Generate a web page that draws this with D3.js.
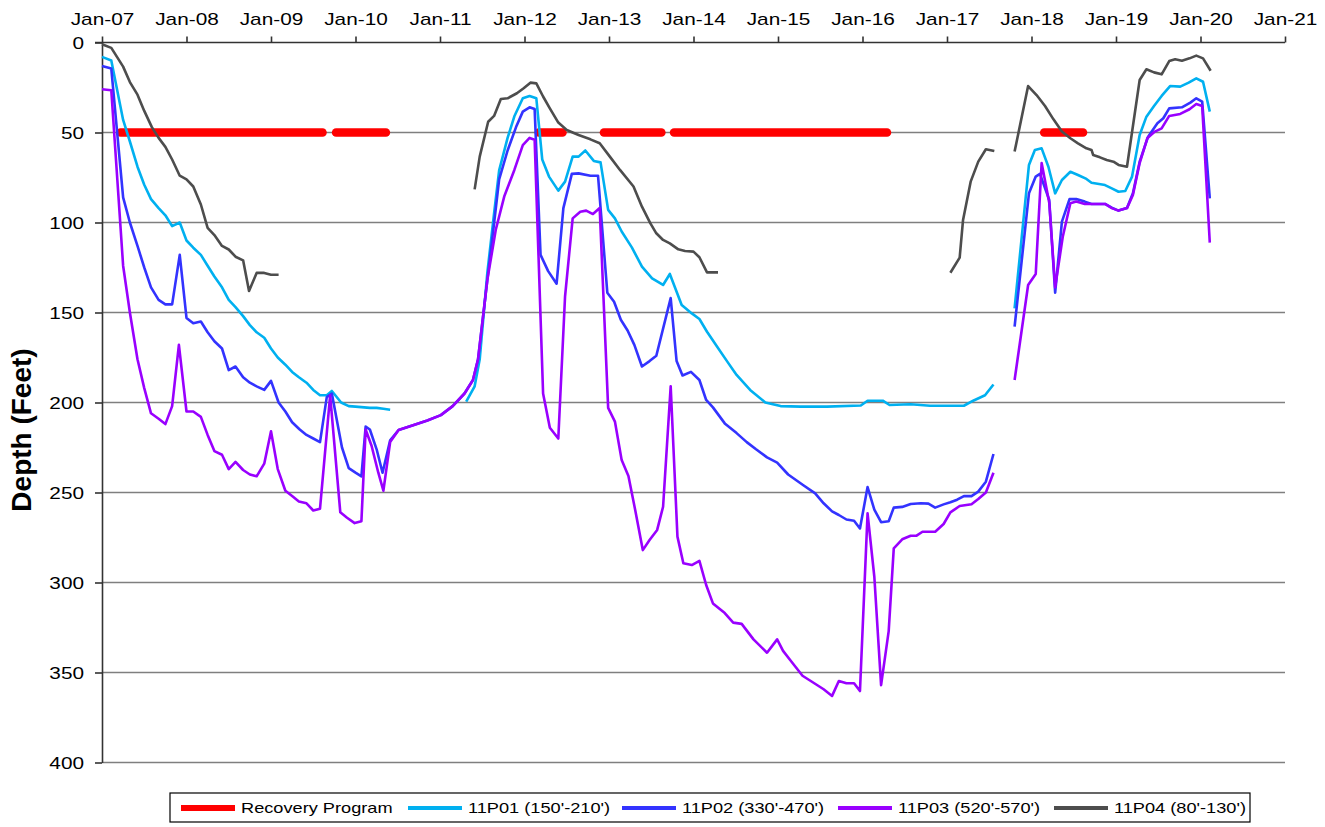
<!DOCTYPE html>
<html><head><meta charset="utf-8">
<script src="https://cdn.jsdelivr.net/npm/d3@7"></script>
<style>body{margin:0;background:#fff} text{font-family:"Liberation Sans",Arial,sans-serif;fill:#000}</style>
</head><body><svg id="c" width="1325" height="827"></svg>
<script>
// ---------- data ----------
const yearTicks = [2007,2008,2009,2010,2011,2012,2013,2014,2015,2016,2017,2018,2019,2020,2021];
const yearTickLabels = ["Jan-07","Jan-08","Jan-09","Jan-10","Jan-11","Jan-12","Jan-13","Jan-14","Jan-15","Jan-16","Jan-17","Jan-18","Jan-19","Jan-20","Jan-21"];
const depthTicks = [0,50,100,150,200,250,300,350,400];
const seriesNames = ["Recovery Program","11P01 (150'-210')","11P02 (330'-470')","11P03 (520'-570')","11P04 (80'-130')"];
const seriesColors = ["#ff0000","#00b0f0","#3333ff","#9900ff","#4d4d4d"];
const recoveryDepth = 50;
const recoveryPeriods = [[2007.22,2009.61],[2009.77,2010.36],[2012.17,2012.45],[2012.94,2013.62],[2013.77,2016.29],[2018.15,2018.61]];

const p01 = [[2007,8],[2007.11,10],[2007.25,43],[2007.33,55],[2007.42,69],[2007.5,79],[2007.58,87],[2007.67,92],[2007.75,96],[2007.83,102],[2007.92,100],[2008,110],[2008.08,114],[2008.17,118],[2008.25,124],[2008.33,130],[2008.42,136],[2008.5,143],[2008.58,147],[2008.67,152],[2008.75,157],[2008.83,161],[2008.92,164],[2009,170],[2009.08,175],[2009.17,179],[2009.25,183],[2009.33,186],[2009.42,189],[2009.5,193],[2009.58,196],[2009.66,196],[2009.72,193.6],[2009.83,200],[2009.92,202],[2010,202.3],[2010.17,203],[2010.25,203],[2010.33,203.5],[2010.41,204],null,
[2011.31,199.5],[2011.41,191],[2011.47,176],[2011.56,128],[2011.64,95],[2011.7,71],[2011.8,53],[2011.88,41],[2011.98,31],[2012.06,29.7],[2012.14,31],[2012.21,65],[2012.29,74.5],[2012.4,82.3],[2012.48,77.3],[2012.57,63.4],[2012.64,63.4],[2012.72,60],[2012.82,65.8],[2012.9,66.6],[2012.99,93],[2013.07,97.7],[2013.15,105],[2013.27,113.8],[2013.39,124.5],[2013.51,131],[2013.64,134.7],[2013.72,128.6],[2013.86,145.8],[2013.98,150.5],[2014.07,153.6],[2014.16,160.7],[2014.28,169],[2014.4,177.3],[2014.51,184.7],[2014.67,193],[2014.85,200],[2015.03,202],[2015.27,202.3],[2015.58,202.3],[2015.98,201.7],[2016.06,199],[2016.24,199],[2016.32,201.4],[2016.57,201],[2016.8,201.8],[2017.2,201.8],[2017.31,199],[2017.45,196],[2017.55,190],null,
[2017.8,147.7],[2017.97,68],[2018.04,59.7],[2018.12,58.8],[2018.2,69],[2018.28,83.8],[2018.36,76.4],[2018.46,71.8],[2018.55,73.6],[2018.65,75.8],[2018.71,77.9],[2018.87,79.2],[2018.95,81],[2019.03,82.9],[2019.11,82.5],[2019.19,74.5],[2019.28,51.4],[2019.36,41.2],[2019.45,35.3],[2019.54,29.7],[2019.64,24.2],[2019.76,24.5],[2019.86,22.3],[2019.95,19.9],[2020.03,21.8],[2020.11,38.4]];

const p02 = [[2007,13],[2007.11,14.5],[2007.25,86],[2007.33,100],[2007.42,113],[2007.5,125],[2007.58,136],[2007.67,143],[2007.75,145.5],[2007.83,145.5],[2007.92,118],[2008,153],[2008.08,156],[2008.17,155],[2008.25,161],[2008.33,166],[2008.42,170],[2008.5,182],[2008.58,180],[2008.67,186],[2008.75,189],[2008.83,191],[2008.92,193],[2009,188],[2009.09,200],[2009.17,205],[2009.25,211],[2009.34,215],[2009.42,218],[2009.5,220],[2009.58,222],[2009.66,197],[2009.72,195],[2009.84,225],[2009.92,236.5],[2010,239],[2010.07,241],[2010.12,213.4],[2010.17,215],[2010.25,226],[2010.32,239],[2010.41,221],[2010.51,215.3],[2010.69,212.5],[2010.85,210],[2011.01,207],[2011.15,202],[2011.29,195],[2011.39,187.5],[2011.45,176],[2011.5,156],[2011.56,132],[2011.64,100.5],[2011.7,76],[2011.8,60],[2011.9,47],[2011.98,38.4],[2012.06,36],[2012.12,37],[2012.19,118],[2012.28,127],[2012.38,134],[2012.46,92],[2012.56,73],[2012.64,72.7],[2012.78,74],[2012.87,74],[2012.98,139],[2013.06,144],[2013.14,154],[2013.22,160],[2013.3,168],[2013.39,180],[2013.48,177],[2013.56,174],[2013.73,142],[2013.8,177],[2013.87,185],[2013.97,183],[2014.07,187.5],[2014.15,198.6],[2014.23,202.7],[2014.37,211.6],[2014.51,217],[2014.63,222],[2014.74,226],[2014.87,230.5],[2014.99,233.4],[2015.12,240],[2015.3,246],[2015.44,250.5],[2015.54,256],[2015.64,260.5],[2015.72,262.5],[2015.81,265],[2015.9,265.7],[2015.97,270],[2016.06,247],[2016.14,259.5],[2016.22,266.5],[2016.31,266],[2016.37,258.4],[2016.47,258],[2016.57,256.4],[2016.69,256],[2016.78,256.2],[2016.86,258.4],[2016.96,256.6],[2017.04,255.4],[2017.12,254],[2017.2,252],[2017.29,252],[2017.37,249.5],[2017.46,244],[2017.55,228.6],null,
[2017.8,157.9],[2017.97,83.8],[2018.05,74.5],[2018.1,73],[2018.21,87.5],[2018.28,139],[2018.36,99.5],[2018.45,87],[2018.53,87],[2018.63,88.4],[2018.71,89.7],[2018.87,89.7],[2018.95,91.8],[2019.03,93.4],[2019.13,92],[2019.2,83.8],[2019.28,66.2],[2019.38,52.3],[2019.49,44.9],[2019.56,42.1],[2019.63,36.6],[2019.78,36],[2019.88,33.4],[2019.95,31],[2020.02,32.9],[2020.11,86.6]];

const p03 = [[2007,26],[2007.11,26.5],[2007.25,124],[2007.33,150],[2007.42,176],[2007.5,192],[2007.58,206],[2007.67,209],[2007.75,212],[2007.83,202],[2007.91,168],[2008,205],[2008.08,205],[2008.17,208],[2008.25,218],[2008.33,227],[2008.42,229],[2008.5,237],[2008.58,233],[2008.67,237.5],[2008.75,240],[2008.83,241],[2008.92,234],[2009,216],[2009.08,237],[2009.17,249],[2009.25,252],[2009.33,255],[2009.42,256],[2009.5,260],[2009.58,259],[2009.7,196],[2009.82,261],[2009.9,264],[2009.99,267],[2010.07,266],[2010.12,215],[2010.19,224],[2010.27,239],[2010.33,249],[2010.41,222],[2010.51,215.3],[2010.69,212.5],[2010.85,210],[2011.01,207],[2011.15,202],[2011.29,195],[2011.39,187.5],[2011.45,176],[2011.5,156],[2011.56,132],[2011.66,104],[2011.76,85.6],[2011.88,70.8],[2011.98,57],[2012.06,53],[2012.12,54],[2012.22,195],[2012.3,214],[2012.4,220],[2012.48,141],[2012.57,97.7],[2012.66,94],[2012.73,93.4],[2012.81,95.3],[2012.89,92],[2012.99,203],[2013.07,210.6],[2013.15,232],[2013.23,240.8],[2013.31,259.7],[2013.4,282],[2013.48,276.4],[2013.57,270.8],[2013.64,257.9],[2013.73,191],[2013.81,274.5],[2013.88,289.3],[2013.98,290.3],[2014.07,288],[2014.15,301.4],[2014.23,311.6],[2014.37,317],[2014.47,322.3],[2014.57,323],[2014.71,331.6],[2014.87,339],[2014.99,331.6],[2015.06,338],[2015.16,344],[2015.29,351.8],[2015.42,355.7],[2015.54,359.3],[2015.64,363],[2015.72,354.7],[2015.81,356],[2015.9,356],[2015.97,360.3],[2016.06,261.6],[2016.14,296.8],[2016.22,357],[2016.31,327],[2016.37,281],[2016.47,276],[2016.57,274],[2016.64,274],[2016.71,271.8],[2016.86,271.8],[2016.96,267.5],[2017.04,261],[2017.15,257.5],[2017.29,256.5],[2017.37,253.6],[2017.46,250],[2017.55,239],null,
[2017.8,187.5],[2017.96,134.7],[2018.05,128.6],[2018.12,67],[2018.21,89],[2018.28,136],[2018.37,107.9],[2018.46,89.3],[2018.53,88.4],[2018.63,89.7],[2018.71,89.7],[2018.87,89.7],[2018.95,92],[2019.03,93.4],[2019.13,92],[2019.2,84.7],[2019.28,67],[2019.37,53.2],[2019.46,49.5],[2019.54,47.7],[2019.63,40.8],[2019.76,39.7],[2019.87,37.1],[2019.95,34.2],[2020.02,35.3],[2020.11,111.2]];

const p04 = [[2007,1],[2007.11,3],[2007.25,13.4],[2007.33,22],[2007.42,29],[2007.5,38],[2007.59,47],[2007.67,53],[2007.75,58],[2007.83,65],[2007.92,74],[2008,76],[2008.08,80],[2008.17,90],[2008.25,103],[2008.33,107],[2008.42,113],[2008.5,115],[2008.58,119],[2008.67,121],[2008.74,138],[2008.83,128],[2008.92,128],[2009,129],[2009.09,129],null,
[2011.41,81.6],[2011.47,63.4],[2011.57,44],[2011.64,40.8],[2011.72,31.4],[2011.8,31],[2011.91,28.2],[2011.99,25.4],[2012.07,22.3],[2012.14,22.7],[2012.22,30],[2012.3,36.6],[2012.4,44.5],[2012.5,48.6],[2012.64,51.4],[2012.78,53.8],[2012.89,56],[2013.01,63.4],[2013.13,70.8],[2013.29,80],[2013.39,91.2],[2013.49,100.5],[2013.56,106],[2013.64,109.7],[2013.72,111.6],[2013.82,114.9],[2013.9,115.8],[2014,116.2],[2014.07,119.3],[2014.16,127.7],[2014.29,127.7],null,
[2017.04,127.9],[2017.15,119.5],[2017.19,98.6],[2017.28,77.3],[2017.37,66.2],[2017.46,59.3],[2017.56,60.3],null,
[2017.8,60.6],[2017.96,24.2],[2018.06,29.2],[2018.16,35.3],[2018.26,42.7],[2018.36,49.5],[2018.46,53.2],[2018.55,56],[2018.65,58.8],[2018.71,59.7],[2018.73,62.5],[2018.81,63.8],[2018.89,65.3],[2018.97,66.2],[2019.03,68],[2019.13,69],[2019.28,20.8],[2019.36,14.9],[2019.45,16.6],[2019.54,17.7],[2019.63,10.3],[2019.7,9.3],[2019.78,10.1],[2019.87,8.8],[2019.95,7.3],[2020.03,8.8],[2020.12,15.7]];

// ---------- layout ----------
const plot = {left:102, right:1285, top:42.5, bottom:762.5};
const TX = 1.3; // horizontal text stretch of the original picture
const svg = d3.select("#c");
const x = d3.scaleLinear().domain([2007,2021]).range([plot.left, plot.right]);
const y = d3.scaleLinear().domain([0,400]).range([plot.top, plot.bottom]);

// gridlines
svg.append("g").selectAll("line").data(depthTicks.filter(d=>d>0)).join("line")
  .attr("x1", plot.left).attr("x2", x(2021)).attr("y1", d=>y(d)).attr("y2", d=>y(d))
  .attr("stroke", "#7f7f7f").attr("stroke-width", 1.6);

// axes
const xAxis = svg.append("g").attr("transform", `translate(0,${plot.top})`)
  .call(d3.axisTop(x).tickValues(yearTicks).tickFormat((d,i)=>yearTickLabels[i]).tickSize(6).tickSizeOuter(0));
const yAxis = svg.append("g").attr("transform", `translate(${plot.left},0)`)
  .call(d3.axisLeft(y).tickValues(depthTicks).tickSize(7).tickSizeOuter(0));
[xAxis,yAxis].forEach(g=>{
  g.select(".domain").attr("stroke","#333").attr("stroke-width",1.6);
  g.selectAll(".tick line").attr("stroke","#333").attr("stroke-width",1.6);
  g.selectAll("text").attr("font-family",'"Liberation Sans",Arial,sans-serif').attr("fill","#000");
});
xAxis.select(".domain").attr("d", `M${plot.left-7},0H${x(2021)}`);
xAxis.selectAll(".tick text").attr("font-size",16).attr("y",-18).attr("dy",0)
  .attr("transform",`scale(${TX},1)`);
yAxis.selectAll(".tick text").attr("font-size",16).attr("x",-18/TX).attr("dy","0.36em")
  .attr("transform",`scale(${TX},1)`);

// axis title
svg.append("text").attr("font-weight","bold").attr("font-size",28)
  .attr("text-anchor","middle")
  .attr("transform",`translate(31,430) rotate(-90)`)
  .text("Depth (Feet)");

// series
const line = d3.line().defined(d=>d!==null).x(d=>x(d[0])).y(d=>y(d[1]));
const g = svg.append("g").attr("fill","none");
g.selectAll("path.rec").data(recoveryPeriods).join("path").attr("class","rec")
  .attr("d", p=>line([[p[0],recoveryDepth],[p[1],recoveryDepth]]))
  .attr("stroke", seriesColors[0]).attr("stroke-width",8.5).attr("stroke-linecap","round");
[p01,p02,p03,p04].forEach((s,i)=>{
  g.append("path").attr("d", line(s)).attr("stroke", seriesColors[i+1])
    .attr("stroke-width",2.6).attr("stroke-linejoin","round");
});

// legend
const lg = svg.append("g");
lg.append("rect").attr("x",170).attr("y",793).attr("width",1080).attr("height",29)
  .attr("fill","#fff").attr("stroke","#000").attr("stroke-width",1.2);
const legendX = [181,408,622,838,1054];
seriesNames.forEach((n,i)=>{
  const lx = legendX[i], ly = 808;
  lg.append("line").attr("x1",lx).attr("x2",lx+54).attr("y1",ly).attr("y2",ly)
    .attr("stroke",seriesColors[i]).attr("stroke-width", i===0?6:4);
  lg.append("text").attr("font-size",14).attr("dy","0.35em")
    .attr("transform",`translate(${lx+60},${ly}) scale(${TX},1)`).text(n);
});
</script></body></html>
